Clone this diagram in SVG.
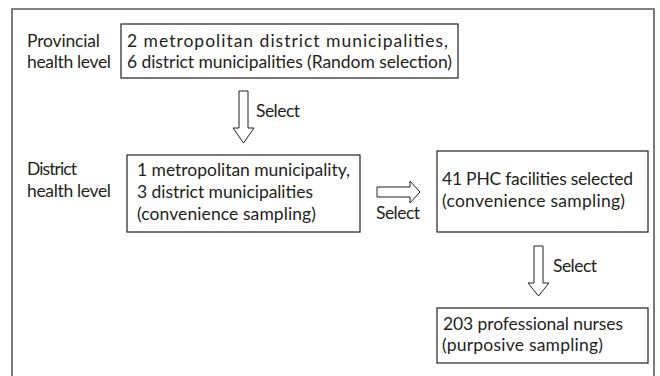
<svg xmlns="http://www.w3.org/2000/svg" width="660" height="376" viewBox="0 0 660 376">
<style>
text{font-family:Lato,"Liberation Sans",sans-serif;font-size:17.5px;fill:#231f20}
.box{fill:#fff;stroke:#231f20;stroke-width:1.2}
.arr{fill:#fff;stroke:#231f20;stroke-width:1}
.frame{fill:none;stroke:#5a5a5a;stroke-width:1.6}
</style>
<rect width="660" height="376" fill="#fff"/>
<path class="frame" d="M12,380 V9 H654 V380"/>
<g id="label-provincial">
<text x="27" y="47" textLength="73">Provincial</text>
<text x="27" y="68" textLength="84">health level</text>
</g>
<g id="label-district">
<text x="27" y="175" textLength="50">District</text>
<text x="27" y="197" textLength="84">health level</text>
</g>
<g id="node-provincial">
<rect class="box" x="121" y="24" width="337" height="54"/>
<text x="127" y="47" textLength="321">2 metropolitan district municipalities,</text>
<text x="127" y="68" textLength="325">6 district municipalities (Random selection)</text>
</g>
<g id="node-district">
<rect class="box" x="127" y="155" width="233" height="77"/>
<text x="137" y="176" textLength="213">1 metropolitan municipality,</text>
<text x="137" y="198" textLength="176">3 district municipalities</text>
<text x="137" y="220" textLength="179">(convenience sampling)</text>
</g>
<g id="node-phc">
<rect class="box" x="437" y="151" width="211" height="81"/>
<text x="442" y="185" textLength="191">41 PHC facilities selected</text>
<text x="442" y="207" textLength="183">(convenience sampling)</text>
</g>
<g id="node-nurses">
<rect class="box" x="437" y="308" width="211" height="55"/>
<text x="443" y="330" textLength="180">203 professional nurses</text>
<text x="442" y="351" textLength="161">(purposive sampling)</text>
</g>
<g id="connectors">
<path class="arr" d="M239,91 H248 V128 H254 L243.5,143 L233,128 H239 Z"/>
<text x="256" y="117" textLength="44">Select</text>
<path class="arr" d="M377,187 H410 V181 L420,192 L410,203 V197 H377 Z"/>
<text x="376" y="219" textLength="44">Select</text>
<path class="arr" d="M534,246 H543 V283 H549 L538.5,296 L528,283 H534 Z"/>
<text x="553" y="272" textLength="44">Select</text>
</g>
</svg>
